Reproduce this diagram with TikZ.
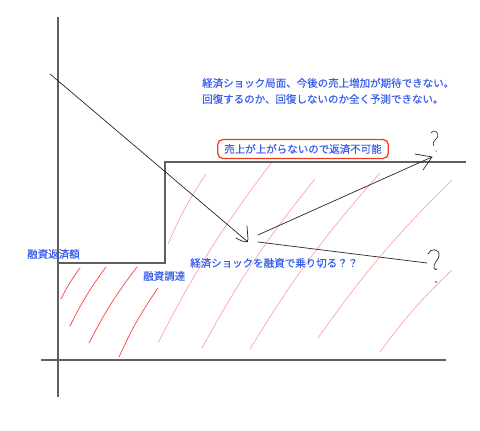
\documentclass[tikz,border=0pt]{standalone}
\usepackage{fontspec}
\newfontfamily\jpfont[UprightFeatures={FakeBold=0.35}]{Noto Sans CJK JP}
\definecolor{noteblue}{RGB}{55,95,235}
\definecolor{boxred}{RGB}{238,60,30}
\definecolor{axisgray}{RGB}{95,95,95}
\tikzset{
    note/.style={text=noteblue,font=\jpfont\fontsize{10.5}{13}\selectfont,inner sep=0pt},
    axisline/.style={axisgray,line width=1.4pt},
    pen/.style={black!85,line width=0.7pt,line cap=round,line join=round},
    hatch/.style={red!75,line width=0.7pt,line cap=round},
    hatchlight/.style={red!40,line width=0.6pt,line cap=round}
}
\begin{document}
\begin{tikzpicture}[x=1pt,y=-1pt]
    \useasboundingbox (0,0) rectangle (480,431);

    \foreach \xa/\ya/\xb/\yb in {80/268/61/299, 106/267/70/326, 137/267/89/343, 158/288/119/357}
    {
        \draw[hatch] (\xa,\ya) to[bend right=5] (\xb,\yb);
    }

    \foreach \xa/\ya/\xb/\yb in {206/174/168/244, 272/162/158/343, 315/179/202/348, 380/173/250/349, 452/180/318/338, 452/270/380/352}
    {
        \draw[hatchlight] (\xa,\ya) to[bend right=5] (\xb,\yb);
    }

    \draw[axisline] (58,17) -- (58,397);
    \draw[axisline] (41,360) -- (446,360);
    \draw[axisline] (58,263) -- (165,263) -- (165,162) -- (466,162);

    \coordinate (fall) at (50,74);
    \coordinate (crisis) at (248,242);
    \coordinate (upstart) at (258,235);
    \coordinate (uptip) at (432,157);
    \coordinate (downstart) at (258,242);
    \coordinate (downend) at (427,263);

    \draw[pen] (fall) -- (crisis);
    \draw[pen] (247,226) -- (248,239) .. controls (248,243) and (245,243) .. (236,238);

    \draw[pen] (upstart) -- (uptip);
    \draw[pen] (415,154) -- (uptip) -- (423,170);

    \draw[pen] (downstart) -- (downend);

    \draw[pen,line width=0.6pt] (431,133) .. controls (433,129) and (440,131) .. (437,138) .. controls (434,141) and (432,143) .. (434,146);
    \fill[black!85] (436,151) circle (0.7);

    \draw[pen,line width=0.7pt] (428,254) .. controls (430,248) and (440,248) .. (439,256) .. controls (438,261) and (433,263) .. (434,268) .. controls (435,270) and (436,270) .. (437,269);
    \fill[black!85] (436,282) circle (0.8);

    \node[note,anchor=west] (outlook) at (202,83) {経済ショック局面、今後の売上増加が期待できない。};
    \node[note,anchor=west] (unknown) at (202,99) {回復するのか、回復しないのか全く予測できない。};

    \node[note,draw=boxred,line width=1.3pt,rounded corners=5pt,inner xsep=6.5pt,inner ysep=4.5pt] (nopay) at (303,149) {売上が上がらないので返済不可能};

    \node[note,anchor=west] (repay) at (27,254) {融資返済額};
    \node[note,anchor=west] (funding) at (143,276) {融資調達};
    \node[note,anchor=west] (survive) at (190,263) {経済ショックを融資で乗り切る？？};
\end{tikzpicture}
\end{document}
